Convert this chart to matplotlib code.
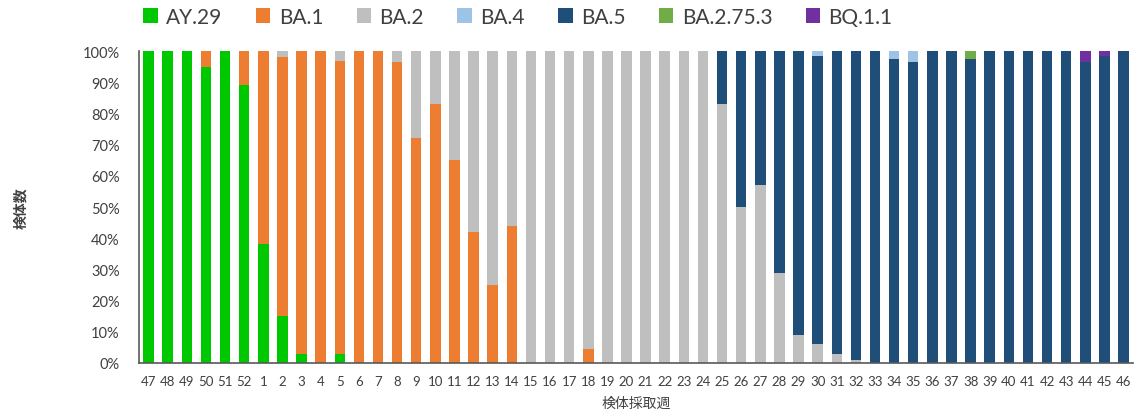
import numpy as np
import matplotlib
matplotlib.use("Agg")
import matplotlib.pyplot as plt

plt.rcParams['font.family'] = ['Lato', 'Noto Sans CJK JP', 'DejaVu Sans']

weeks = ["47", "48", "49", "50", "51", "52"] + [str(w) for w in range(1, 47)]

# share in % per week (left to right)
ay29 = [100, 100, 100, 95, 100, 89, 38, 15, 3, 0, 3, 0, 0, 0, 0, 0, 0, 0, 0, 0,
        0, 0, 0, 0, 0, 0, 0, 0, 0, 0, 0, 0, 0, 0, 0, 0, 0, 0, 0, 0,
        0, 0, 0, 0, 0, 0, 0, 0, 0, 0, 0, 0]
ba1 = [0, 0, 0, 5, 0, 11, 62, 83, 97, 100, 94, 100, 100, 96.5, 72, 83, 65, 42, 25, 44,
       0, 0, 0, 4.5, 0, 0, 0, 0, 0, 0, 0, 0, 0, 0, 0, 0, 0, 0, 0, 0,
       0, 0, 0, 0, 0, 0, 0, 0, 0, 0, 0, 0]
ba2 = [0, 0, 0, 0, 0, 0, 0, 2, 0, 0, 3, 0, 0, 3.5, 28, 17, 35, 58, 75, 56,
       100, 100, 100, 95.5, 100, 100, 100, 100, 100, 100, 83, 50, 57, 29, 9, 6, 3, 1, 0, 0,
       0, 0, 0, 0, 0, 0, 0, 0, 0, 0, 0, 0]
ba4 = [0, 0, 0, 0, 0, 0, 0, 0, 0, 0, 0, 0, 0, 0, 0, 0, 0, 0, 0, 0,
       0, 0, 0, 0, 0, 0, 0, 0, 0, 0, 0, 0, 0, 0, 0, 1.5, 0, 0, 0, 2.5,
       3.5, 0, 0, 0, 0, 0, 0, 0, 0, 0, 0, 0]
ba5 = [0, 0, 0, 0, 0, 0, 0, 0, 0, 0, 0, 0, 0, 0, 0, 0, 0, 0, 0, 0,
       0, 0, 0, 0, 0, 0, 0, 0, 0, 0, 17, 50, 43, 71, 91, 92.5, 97, 99, 100, 97.5,
       96.5, 100, 100, 97.5, 100, 100, 100, 100, 100, 96.5, 98.5, 100]
ba2753 = [0] * 43 + [2.5] + [0] * 8
bq11 = [0] * 49 + [3.5, 1.5, 0]

names = ["AY.29", "BA.1", "BA.2", "BA.4", "BA.5", "BA.2.75.3", "BQ.1.1"]
values = [ay29, ba1, ba2, ba4, ba5, ba2753, bq11]
colors = ["#00C800", "#ED7D31", "#BFBFBF", "#9DC3E6", "#1F4E79", "#70AD47", "#7030A0"]
# BA.4 sits on top of BA.5 in the stack
stack_order = [0, 1, 2, 4, 3, 5, 6]

fig = plt.figure(figsize=(11.36, 4.14), dpi=100)
ax = fig.add_axes([0.1224, 0.1208, 0.875, 0.7532])

x = np.arange(len(weeks))
bottom = np.zeros(len(weeks))
handles = {}
for i in stack_order:
    v = np.array(values[i], dtype=float)
    handles[i] = ax.bar(x, v, 0.55, bottom=bottom, color=colors[i], label=names[i])
    bottom += v

ax.set_xlim(-0.5, len(weeks) - 0.5)
ax.set_ylim(0, 100)
ax.set_yticks(range(0, 101, 10))
ax.set_yticklabels([f"{t}%" for t in range(0, 101, 10)], fontsize=10.5, color="#404040")
ax.set_xticks(x)
ax.set_xticklabels(weeks, fontsize=9.5, color="#404040")
ax.tick_params(axis="both", length=0)
ax.tick_params(axis="x", pad=9)
ax.tick_params(axis="y", pad=14)
for s in ["top", "right"]:
    ax.spines[s].set_visible(False)
for s in ["left", "bottom"]:
    ax.spines[s].set_color("#595959")
    ax.spines[s].set_linewidth(1.2)

ax.set_ylabel("検体数", fontsize=10, fontweight="bold", color="#404040", labelpad=40)
ax.set_xlabel("検体採取週", fontsize=10, color="#404040", labelpad=6)

fig.legend([handles[i] for i in range(7)], names,
           loc="center", bbox_to_anchor=(518 / 1136, 1 - 18 / 414), ncol=7,
           frameon=False, fontsize=15, handlelength=0.7, handleheight=0.7,
           handletextpad=0.4, columnspacing=1.6, labelcolor="#404040")

fig.savefig("out.png", dpi=100)
